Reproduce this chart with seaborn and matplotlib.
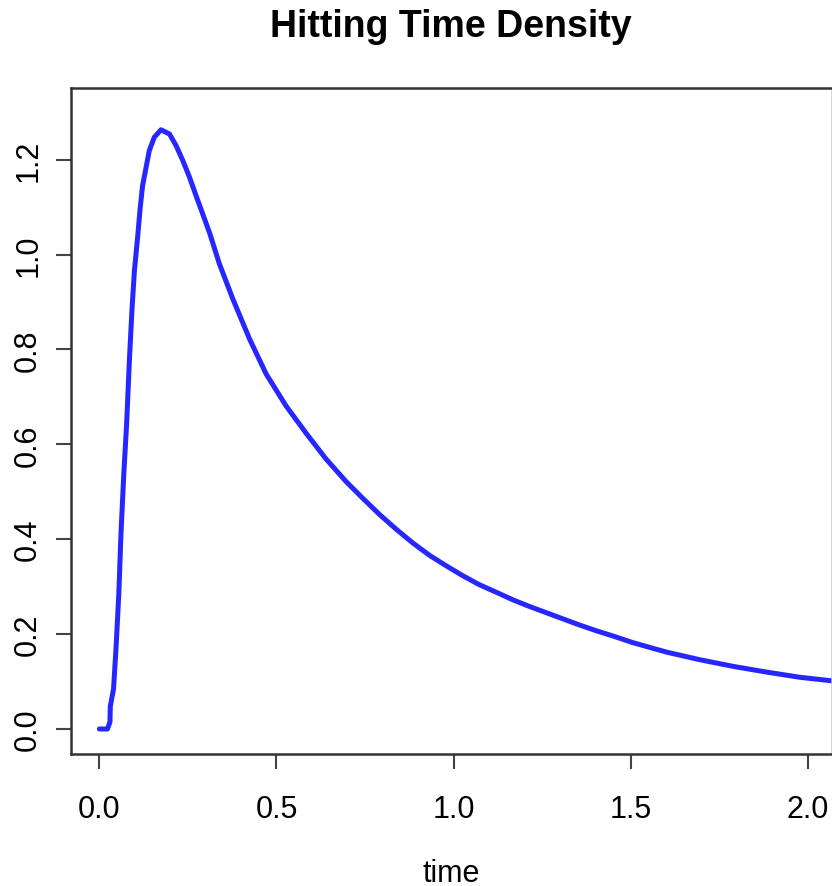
import pandas as pd
import seaborn as sns
import matplotlib.pyplot as plt

# values
time = [0.000, 0.023, 0.030, 0.031, 0.040, 0.047, 0.055, 0.061, 0.069, 0.077,
        0.085, 0.092, 0.099, 0.108, 0.115, 0.122, 0.132, 0.141, 0.155, 0.174,
        0.198, 0.217, 0.235, 0.254, 0.273, 0.292, 0.311, 0.339, 0.377, 0.424,
        0.471, 0.527, 0.584, 0.640, 0.697, 0.744, 0.791, 0.838, 0.885, 0.932,
        0.979, 1.026, 1.073, 1.121, 1.168, 1.215, 1.262, 1.309, 1.356, 1.403,
        1.450, 1.506, 1.601, 1.695, 1.789, 1.883, 1.977, 2.062, 2.100]
density = [0.000, 0.000, 0.015, 0.048, 0.084, 0.169, 0.285, 0.411, 0.537, 0.643,
           0.780, 0.882, 0.966, 1.036, 1.096, 1.145, 1.184, 1.219, 1.247, 1.263,
           1.254, 1.229, 1.199, 1.164, 1.124, 1.085, 1.046, 0.980, 0.906, 0.822,
           0.748, 0.681, 0.623, 0.569, 0.521, 0.486, 0.452, 0.421, 0.392, 0.366,
           0.344, 0.323, 0.304, 0.288, 0.272, 0.258, 0.245, 0.232, 0.219, 0.207,
           0.196, 0.182, 0.162, 0.146, 0.132, 0.120, 0.109, 0.102, 0.099]
xticks = [0.0, 0.5, 1.0, 1.5, 2.0]
yticks = [0.0, 0.2, 0.4, 0.6, 0.8, 1.0, 1.2]

def visualize():
    sns.set_style('white')
    plt.rcParams['font.family'] = ['Liberation Sans', 'DejaVu Sans']
    plt.rcParams['text.color'] = 'black'
    plt.rcParams['xtick.color'] = 'black'
    plt.rcParams['ytick.color'] = 'black'
    plt.rcParams['axes.labelcolor'] = 'black'

    data = pd.DataFrame({'time': time, 'density': density})

    fig = plt.figure(figsize=(8.32, 8.87), dpi=100)
    ax = fig.add_axes([71 / 832, 132 / 887, 761 / 832, 666 / 887])
    sns.lineplot(x='time', y='density', data=data, ax=ax,
                 color='#2626ff', linewidth=3.6, sort=False,
                 solid_joinstyle='round', solid_capstyle='round')

    ax.set_xlim(-0.08, 2.068)
    ax.set_ylim(-0.0527, 1.351)
    ax.set_xticks(xticks)
    ax.set_yticks(yticks)
    ax.set_xticklabels([f'{v:.1f}' for v in xticks])
    ax.set_yticklabels([f'{v:.1f}' for v in yticks], rotation=90, va='center')

    for s in ax.spines.values():
        s.set_color('#333333')
        s.set_linewidth(1.8)
    ax.spines['right'].set_color('#cccccc')

    ax.tick_params(axis='both', direction='out', length=11, width=1.5,
                   color='#444444', labelsize=22, left=True, bottom=True)
    ax.tick_params(axis='x', pad=18)
    ax.tick_params(axis='y', pad=9)

    ax.set_xlabel('time', fontsize=22, labelpad=24)
    ax.set_ylabel('')
    fig.suptitle('Hitting Time Density', fontsize=27, fontweight='bold',
                 x=451 / 832, y=1 - 27 / 887, va='center', color='black')

    fig.savefig('out.png', dpi=100)

visualize()
